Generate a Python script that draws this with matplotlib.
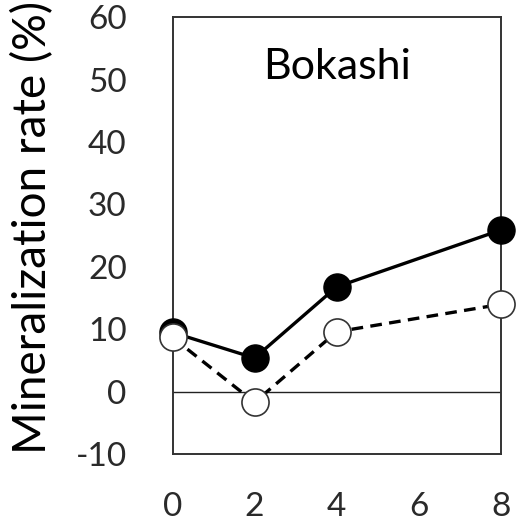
import matplotlib

matplotlib.use("Agg")
import matplotlib.pyplot as plt

# Weeks of incubation and mineralization rate (%) for the two treatments
WEEKS = [0, 2, 4, 8]
FILLED_RATE = [9.5, 5.4, 16.8, 25.9]
OPEN_RATE = [8.7, -1.7, 9.6, 14.0]

Y_TICKS = [-10, 0, 10, 20, 30, 40, 50, 60]
X_TICKS = [0, 2, 4, 6, 8]
PANEL_TITLE = "Bokashi"
Y_LABEL = "Mineralization rate (%)"

plt.rcParams["font.family"] = ["Lato", "DejaVu Sans"]
plt.rcParams["axes.unicode_minus"] = False


def main() -> None:
    fig = plt.figure(figsize=(5.26, 5.22), dpi=100)
    ax = fig.add_axes([0.328, 0.130, 0.624, 0.837])

    ax.axhline(0, color="#222222", linewidth=1.0, zorder=1)

    ax.plot(WEEKS, FILLED_RATE, color="black", linewidth=2.4,
            marker="o", markersize=19.5, markerfacecolor="black",
            markeredgecolor="black", clip_on=False, zorder=3)
    ax.plot(WEEKS, OPEN_RATE, color="black", linewidth=2.4,
            linestyle=(0, (3.5, 2.2)),
            marker="o", markersize=19.5, markerfacecolor="white",
            markeredgecolor="#333333", markeredgewidth=1.2,
            clip_on=False, zorder=4)

    ax.set_xlim(0, 8)
    ax.set_ylim(-10, 60)
    ax.set_xticks(X_TICKS)
    ax.set_yticks(Y_TICKS)
    ax.tick_params(axis="x", length=0, pad=27, labelsize=24,
                   labelcolor="#2a2a2a")
    ax.tick_params(axis="y", length=0, pad=33, labelsize=24,
                   labelcolor="#2a2a2a")

    for spine in ax.spines.values():
        spine.set_linewidth(1.4)
        spine.set_color("#333333")

    ax.text(0.5, 0.885, PANEL_TITLE, transform=ax.transAxes,
            ha="center", va="center", fontsize=31, color="black")

    ax.set_ylabel(Y_LABEL, fontsize=33, color="black")
    ax.yaxis.set_label_coords(-0.36, 0.52)

    fig.savefig("out.png", dpi=100)
    plt.close(fig)


if __name__ == "__main__":
    main()
